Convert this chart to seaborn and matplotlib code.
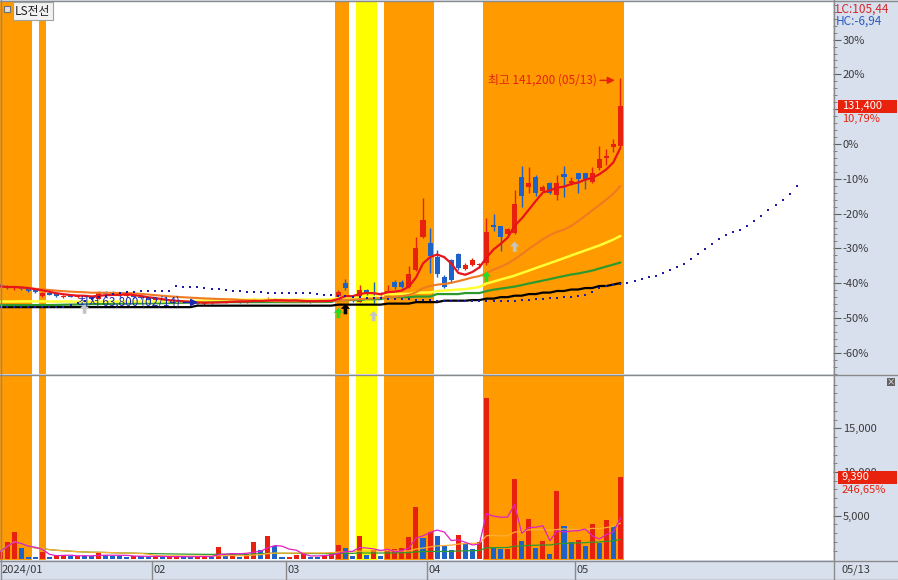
import numpy as np
import pandas as pd
import matplotlib
matplotlib.use("Agg")
import matplotlib.pyplot as plt
import seaborn as sns
from matplotlib.patches import Rectangle
from matplotlib.path import Path
from matplotlib.lines import Line2D

# ---- data ----
holidays = ["2024-02-09", "2024-02-12", "2024-03-01", "2024-04-10", "2024-05-01", "2024-05-06"]
dates = pd.bdate_range("2024-01-02", "2024-05-13")
dates = dates[~dates.isin(pd.to_datetime(holidays))]

stock_name = "LS전선"
prev_close = 118600

opens = [70600, 70300, 69500, 69800, 69200, 68700, 66900, 67800, 67500, 66400,
         66900, 66600, 66600, 66400, 65900, 68000, 68300, 67400, 66900, 67100,
         66500, 66000, 65300, 65600, 65200, 64700, 65000, 64500, 64700, 64200,
         64400, 65300, 64800, 65100, 65000, 64700, 65000, 65600, 65100, 65900,
         65200, 64900, 65200, 65400, 64900, 64800, 65100, 65400, 65400, 71200,
         66500, 64800, 68700, 67900, 67400, 67500, 71500, 71600, 69700, 75600,
         87000, 84700, 80200, 73400, 79000, 81100, 75900, 77300, 77300, 77900,
         90800, 90700, 87900, 88100, 107500, 104000, 107400, 102700, 105400, 101200,
         108400, 105400, 108800, 108600, 105700, 110300, 113700, 117700, 117900]
highs = [71000, 70700, 70200, 70000, 69400, 68900, 68300, 68100, 67700, 67200,
         67300, 67100, 67200, 66700, 68500, 68400, 68500, 67800, 67400, 67300,
         66800, 66300, 65900, 66000, 65400, 65200, 65200, 64900, 64900, 64600,
         65100, 65900, 65300, 65500, 65200, 65200, 66100, 65800, 66400, 66000,
         65400, 65400, 65600, 65500, 65200, 65300, 65600, 65900, 68800, 72600,
         67100, 70500, 69200, 71500, 68000, 70500, 72200, 72400, 77000, 87000,
         100100, 89900, 82400, 73900, 79400, 81500, 77900, 79600, 78100, 93300,
         94700, 90700, 90000, 102900, 111100, 110900, 108000, 104500, 105700, 108000,
         111100, 107200, 108800, 108600, 110900, 117900, 116800, 120300, 141200]
lows = [69800, 69200, 69000, 69000, 68300, 67900, 66600, 67000, 66600, 66100,
        66300, 66200, 66300, 65400, 65700, 67200, 67100, 66600, 66500, 66200,
        65700, 65000, 64900, 65000, 64500, 64400, 64300, 64100, 64000, 63800,
        64200, 64600, 64500, 64700, 64400, 64400, 64800, 64900, 65000, 65000,
        64700, 64600, 64900, 64700, 64500, 64600, 64900, 65100, 65100, 68800,
        64700, 64700, 67300, 64400, 66900, 67200, 69300, 69400, 69500, 75400,
        86600, 74500, 73300, 69500, 71600, 75600, 75600, 77000, 76200, 77300,
        88900, 82200, 87400, 87900, 97200, 101800, 100900, 102300, 101500, 99500,
        100400, 104600, 102000, 103200, 105200, 109700, 111400, 116000, 117200]
closes = [70100, 69600, 69900, 69300, 68600, 68100, 67800, 67300, 66900, 66900,
          66600, 66900, 67000, 65700, 68200, 67500, 67400, 66900, 67100, 66500,
          66000, 65300, 65600, 65200, 64700, 65000, 64500, 64700, 64200, 64400,
          64900, 64800, 65100, 65000, 64700, 65000, 65600, 65100, 65900, 65200,
          64900, 65200, 65400, 64900, 64800, 65100, 65400, 65600, 68100, 69500,
          65100, 68800, 67800, 67500, 67800, 68500, 69800, 69700, 74300, 83000,
          92700, 80400, 74300, 69900, 72200, 76500, 77300, 79000, 77700, 88700,
          90500, 86800, 89600, 98100, 101000, 105400, 101800, 104000, 101800, 105400,
          107400, 106100, 106600, 106600, 108600, 113400, 114500, 118600, 131400]
volumes = [900, 2000, 3100, 1300, 300, 250, 800, 300, 450, 500,
           350, 420, 380, 350, 800, 450, 400, 350, 300, 420,
           350, 300, 380, 250, 300, 350, 300, 280, 350, 400,
           300, 1400, 500, 700, 300, 600, 2000, 1100, 2700, 1500,
           300, 300, 500, 600, 300, 250, 500, 800, 1600, 1300,
           400, 2700, 500, 1100, 400, 1100, 1150, 1300, 2600, 6000,
           2400, 3100, 2700, 1500, 1100, 2750, 1750, 1150, 2000, 18500,
           1350, 1150, 1200, 9200, 2050, 4600, 1350, 2050, 600, 7800,
           3800, 2000, 2200, 1550, 4000, 1900, 4500, 3807, 9390]

# slow averages as drawn (they depend on history before the window)
ma40_line = [64900, 64900, 64900, 64950, 64950, 64950, 64950, 64900, 64900, 64900,
             64900, 64850, 64850, 64850, 64850, 64900, 64900, 64900, 64900, 64900,
             64900, 64900, 64950, 64950, 64950, 65000, 65000, 65050, 65150, 65250,
             65350, 65450, 65500, 65550, 65550, 65550, 65550, 65550, 65550, 65550,
             65550, 65550, 65550, 65550, 65550, 65550, 65550, 65600, 66200, 66250,
             66250, 66250, 66300, 66400, 67400, 67450, 67450, 67500, 67500, 67950,
             67950, 68000, 68450, 68650, 68800, 69000, 69150, 69500, 69850, 71050,
             71700, 72400, 73050, 73750, 74600, 75450, 76300, 77150, 78000, 78850,
             79700, 80600, 81450, 82300, 83150, 84000, 85000, 86050, 87250]
ma60_line = [63700, 63700, 63700, 63700, 63700, 63700, 63700, 63700, 63750, 63800,
             63850, 63900, 63950, 64000, 64050, 64100, 64150, 64200, 64200, 64250,
             64250, 64300, 64300, 64350, 64400, 64450, 64500, 64550, 64600, 64650,
             64700, 64700, 64700, 64700, 64700, 64700, 64700, 64700, 64700, 64700,
             64700, 64700, 64700, 64700, 64750, 64750, 64750, 64800, 65400, 65400,
             65400, 65400, 65700, 65700, 65700, 66400, 66400, 66400, 66400, 66600,
             66600, 66600, 67450, 67450, 67450, 67450, 67800, 67800, 67800, 68450,
             68950, 69300, 69650, 70000, 70500, 71050, 71550, 72050, 72550, 73100,
             73600, 74100, 74450, 74950, 75450, 76150, 76850, 77500, 78200]
ma120_line = [63000, 63000, 63000, 63000, 63000, 63000, 63000, 63000, 63000, 63000,
              63000, 63000, 63000, 63000, 63000, 63000, 63000, 63000, 63000, 63000,
              63000, 63000, 63000, 63000, 63000, 63000, 63000, 63000, 63500, 63500,
              63500, 63500, 63500, 63500, 63500, 63500, 63500, 63500, 63500, 63500,
              63500, 63500, 63500, 63500, 63500, 63500, 63500, 63500, 63850, 63850,
              63850, 63850, 63850, 63850, 63850, 64200, 64200, 64200, 64200, 64700,
              64700, 64700, 64700, 65200, 65200, 65200, 65200, 65400, 65400, 65900,
              65900, 66400, 66400, 66900, 66900, 67450, 67450, 67950, 67950, 68500,
              68500, 69000, 69000, 69500, 69500, 70200, 70200, 70700, 71200]
# first 25 dots of the forward-shifted 20-day line
lead_dots = [63200, 63200, 63200, 63200, 63200, 63200, 63200, 63200, 63200, 63200,
             63700, 64400, 65100, 65700, 66400, 66900, 67400, 67800, 68100, 68300,
             68500, 68600, 68600, 68650, 68650]
shift = 25

orange_bars = [0, 1, 2, 3, 4, 6, 48, 49, 55, 56, 57, 58, 59, 60, 61] + list(range(69, 89))
yellow_bars = [51, 52, 53]

sig_idx = [12, 48, 49, 53, 69, 73]
sig_price = [62500, 60970, 62330, 59950, 73350, 83580]
sig_kind = ["gray", "green", "black", "gray", "green", "gray"]

# ---- style ----
RED = "#e8200e"
BLUE = "#1c62c8"
ORANGE_BG = "#ff9a00"
YELLOW_BG = "#ffff00"
STRIP = "#d8e0ee"
LINE = "#8a8a8a"

sns.set_theme(style="white")
plt.rcParams["font.family"] = ["Noto Sans CJK KR", "DejaVu Sans"]
plt.rcParams["axes.unicode_minus"] = False

W, H = 898, 580
PX_BAR = 7.05
fig = plt.figure(figsize=(W / 100, H / 100), dpi=100, facecolor=STRIP)
ax = fig.add_axes([0, 1 - 374 / H, 833 / W, 373 / H], facecolor="white")
axv = fig.add_axes([0, 1 - 560 / H, 833 / W, 185 / H], facecolor="white")

n = len(closes)
x = np.arange(n)
o, h, l, c = (np.array(v, dtype=float) for v in (opens, highs, lows, closes))
vol = np.array(volumes, dtype=float)

# highlighted bars
def runs(idx):
    idx = sorted(idx)
    start = prev = idx[0]
    for i in idx[1:]:
        if i != prev + 1:
            yield start, prev
            start = i
        prev = i
    yield start, prev

for bars, col in ((orange_bars, ORANGE_BG), (yellow_bars, YELLOW_BG)):
    for a, b in runs(bars):
        for axis in (ax, axv):
            axis.axvspan(a - 0.5, b + 0.5, color=col, lw=0, zorder=0)

# candles
ccol = np.where(c >= o, RED, BLUE)
ax.vlines(x, l, h, colors=ccol, lw=1, zorder=3)
body = np.maximum(np.abs(c - o), 350)
ax.bar(x, body, bottom=np.minimum(o, c) - (body - np.abs(c - o)) / 2, width=0.72,
       color=ccol, lw=0, zorder=3)

# moving averages
cs = pd.Series(c)
ma5 = cs.rolling(5, min_periods=1).mean()
ma20 = cs.rolling(20, min_periods=1).mean()
sns.lineplot(x=x, y=ma120_line, ax=ax, color="black", lw=1.6, zorder=4)
sns.lineplot(x=x, y=ma60_line, ax=ax, color="#2e9a2e", lw=1.6, zorder=4)
sns.lineplot(x=x, y=ma40_line, ax=ax, color="#ffff33", lw=1.8, zorder=4)
sns.lineplot(x=x, y=ma20, ax=ax, color="#f07a22", lw=1.5, zorder=4)
sns.lineplot(x=x, y=ma5, ax=ax, color="#e8141c", lw=1.6, zorder=4)

# forward-shifted 20-day average, dotted
dot_x = np.r_[np.arange(shift), x + shift]
dot_y = np.r_[lead_dots, ma20.values]
sns.scatterplot(x=dot_x, y=dot_y, ax=ax, marker="s", s=4, color="#1c1ca8",
                linewidth=0, zorder=5)

# signal arrows
arrow = Path([(0, 1), (-0.9, 0.05), (-0.35, 0.05), (-0.35, -1), (0.35, -1),
              (0.35, 0.05), (0.9, 0.05), (0, 1)], closed=True)
sig_colors = {"gray": "#c4c4c4", "green": "#22dd22", "black": "#000000"}
sig_df = pd.DataFrame({"x": sig_idx, "y": sig_price, "kind": sig_kind})
sns.scatterplot(data=sig_df, x="x", y="y", hue="kind", palette=sig_colors, ax=ax,
                marker=arrow, s=55, linewidth=0, legend=False, zorder=6)

# high / low labels
hi_i, lo_i = int(np.argmax(h)), int(np.argmin(l))
ax.annotate(f"최고 {int(h[hi_i]):,} ({dates[hi_i]:%m/%d})", xy=(hi_i - 0.8, h[hi_i] - 900),
            xytext=(-13, 0), textcoords="offset points", ha="right", va="center",
            fontsize=8.5, color=RED, zorder=7,
            arrowprops=dict(arrowstyle="-|>,head_length=0.5,head_width=0.25", color=RED,
                            lw=1, shrinkA=0, shrinkB=0))
ax.annotate(f"최저 {int(l[lo_i]):,} ({dates[lo_i]:%m/%d})", xy=(lo_i - 0.9, l[lo_i] + 800),
            xytext=(-13, 0), textcoords="offset points", ha="right", va="center",
            fontsize=8.5, color="#1a28b4", zorder=7,
            arrowprops=dict(arrowstyle="-|>,head_length=0.5,head_width=0.25", color="#1a28b4",
                            lw=1, shrinkA=0, shrinkB=0))

# volume
vcol = np.where(np.r_[True, vol[1:] >= vol[:-1]], RED, BLUE)
axv.bar(x, vol, width=0.72, color=vcol, lw=0, zorder=3)
vs = pd.Series(vol)
sns.lineplot(x=x, y=vs.rolling(60, min_periods=1).mean(), ax=axv, color="#2e9a2e", lw=0.9, zorder=4)
sns.lineplot(x=x, y=vs.rolling(20, min_periods=1).mean(), ax=axv, color="#ffb030", lw=0.9, zorder=4)
sns.lineplot(x=x, y=vs.rolling(5, min_periods=1).mean(), ax=axv, color="#e020c8", lw=0.9, zorder=4)

# ---- axes ----
xmax = 833 / PX_BAR
pct = lambda p: prev_close * (1 + p / 100)
for axis in (ax, axv):
    axis.set_xlim(0, xmax)
    axis.set_xticks([])
    axis.set_xlabel("")
    axis.set_ylabel("")
    for s in axis.spines.values():
        s.set_visible(False)
    axis.yaxis.tick_right()
    axis.tick_params(axis="y", which="major", length=6, width=0.8, color="#606060",
                     labelsize=8, labelcolor="#3a3a3a", pad=1, direction="out")
    axis.tick_params(axis="y", which="minor", length=3, width=0.7, color="#808080", direction="out")

ax.set_ylim(pct(-66.1), pct(41.1))
ticks = list(range(-60, 31, 10))
ax.set_yticks([pct(p) for p in ticks])
# the 10% label sits under the price box in the original, so it is left blank
ax.set_yticklabels(["" if p == 10 else f"{p}%" for p in ticks])
ax.set_yticks([pct(p) for p in range(-66, 41, 2)], minor=True)

axv.set_ylim(-70, 21100)
axv.set_yticks([5000, 10000, 15000])
axv.set_yticklabels(["5,000", "10,000", "15,000"])
axv.set_yticks(range(1000, 21000, 1000), minor=True)

# ---- frame lines ----
def hline(ypx):
    fig.add_artist(Line2D([0, 1], [1 - ypx / H] * 2, color=LINE, lw=1))

def vline(xpx, y0, y1):
    fig.add_artist(Line2D([xpx / W] * 2, [1 - y1 / H, 1 - y0 / H], color=LINE, lw=1))

for ypx in (0.5, 374.5, 560.5, 579.5):
    hline(ypx)
vline(0.5, 0, 580)
vline(833.5, 0, 580)

# month labels in bottom strip
month_start = [0] + [i for i in range(1, n) if dates[i].month != dates[i - 1].month]
for i in month_start:
    edge = max((i - 0.5) * PX_BAR, 0)
    lab = f"{dates[i]:%Y/%m}" if i == 0 else f"{dates[i]:%m}"
    if i > 0:
        vline(edge, 561, 580)
    fig.text((edge + 2) / W, 1 - 570 / H, lab, fontsize=8, color="#3a3a3a", va="center", ha="left")
fig.text(842 / W, 1 - 570 / H, f"{dates[-1]:%m/%d}", fontsize=8, color="#3a3a3a", va="center")

# ---- right-side value boxes ----
def fig_y(axis, val):
    return fig.transFigure.inverted().transform(axis.transData.transform((0, val)))[1]

chg = (c[-1] / prev_close - 1) * 100
yc = fig_y(ax, c[-1])
fig.patches.append(Rectangle((838 / W, yc - 6.5 / H), 59 / W, 13 / H, transform=fig.transFigure,
                             fc="#e8220c", ec="none", zorder=5))
fig.text(842 / W, yc, f"{int(c[-1]):,}", color="white", fontsize=8, va="center", zorder=6)
fig.text(842 / W, yc - 13 / H, f"{chg:.2f}%".replace(".", ","), color=RED, fontsize=8, va="center")

vchg = vol[-1] / vol[-2] * 100
yv = fig_y(axv, vol[-1])
fig.patches.append(Rectangle((838 / W, yv - 6.5 / H), 59 / W, 13 / H, transform=fig.transFigure,
                             fc="#e8220c", ec="none", zorder=5))
fig.text(842 / W, yv, f"{int(vol[-1]):,}", color="white", fontsize=8, va="center", zorder=6)
fig.text(842 / W, yv - 13 / H, f"{vchg:.2f}%".replace(".", ","), color=RED, fontsize=8, va="center")

fig.text(836 / W, 1 - 9 / H, "LC:105,44", color="#d42828", fontsize=8.5, va="center")
fig.text(836 / W, 1 - 21 / H, "HC:-6,94", color="#2a5cc0", fontsize=8.5, va="center")

# small close icon of the volume pane
fig.patches.append(Rectangle((887 / W, 1 - 386 / H), 8 / W, 8 / H, transform=fig.transFigure,
                             fc="#606060", ec="none", zorder=5))
fig.text(891 / W, 1 - 382 / H, "×", color="white", fontsize=6, ha="center", va="center", zorder=6)

# title box
fig.patches.append(Rectangle((4 / W, 1 - 12 / H), 6 / W, 6 / H, transform=fig.transFigure,
                             fc="#e0e0e0", ec="#707070", lw=0.8, zorder=5))
fig.text(15 / W, 1 - 11 / H, stock_name, fontsize=8.5, color="#202020", va="center", zorder=6,
         bbox=dict(boxstyle="square,pad=0.2", fc="#f2f2f2", ec="#a0a0a0", lw=0.8))

fig.savefig("out.png", dpi=100, facecolor=fig.get_facecolor())
